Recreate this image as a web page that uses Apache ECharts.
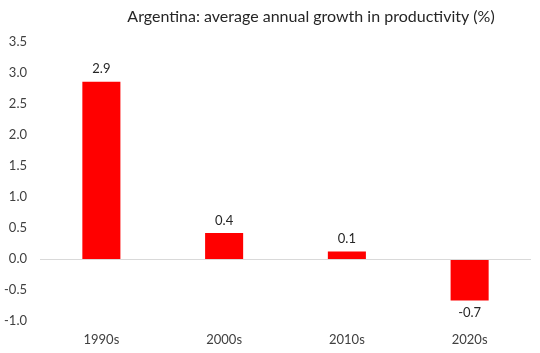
<!DOCTYPE html>
<html>
<head>
<meta charset="utf-8">
<script src="https://cdn.jsdelivr.net/npm/echarts@6/dist/echarts.min.js"></script>
<style>
  html, body { margin: 0; padding: 0; background: #fff; }
  #chart { width: 540px; height: 353px; }
</style>
</head>
<body>
<div id="chart"></div>
<script>
// decades and average annual productivity growth (%)
const decades = ['1990s', '2000s', '2010s', '2020s'];
const growth = [2.86, 0.42, 0.12, -0.67];
const yTicks = { min: -1, max: 3.5, step: 0.5 };

const chart = echarts.init(document.getElementById('chart'));
const font = 'Lato, "Open Sans", sans-serif';

const barData = growth.map(v => ({
  value: v,
  label: { position: v < 0 ? 'bottom' : 'top' }
}));

chart.setOption({
  animation: false,
  title: {
    text: 'Argentina: average annual growth in productivity (%)',
    left: 306,
    textAlign: 'center',
    top: 4,
    textStyle: { fontFamily: font, fontSize: 16, fontWeight: 'normal', color: '#262626' }
  },
  grid: { left: 40, right: 9, top: 42, bottom: 32 },
  xAxis: {
    type: 'category',
    data: decades,
    axisLine: { show: false, onZero: false },
    axisTick: { show: false },
    axisLabel: { fontFamily: font, fontSize: 13, color: '#404040', margin: 12 }
  },
  yAxis: {
    type: 'value',
    min: yTicks.min,
    max: yTicks.max,
    interval: yTicks.step,
    axisLine: { show: false },
    axisTick: { show: false },
    splitLine: { show: false },
    axisLabel: {
      fontFamily: font, fontSize: 13, color: '#404040', margin: 13,
      formatter: v => v.toFixed(1)
    }
  },
  series: [{
    type: 'bar',
    data: barData,
    barWidth: '31%',
    itemStyle: { color: '#ff0000' },
    label: {
      show: true,
      fontFamily: font,
      fontSize: 13,
      color: '#262626',
      distance: 6,
      formatter: p => p.value.toFixed(1)
    },
    markLine: {
      silent: true,
      symbol: 'none',
      label: { show: false },
      lineStyle: { color: '#d9d9d9', type: 'solid', width: 1 },
      data: [{ yAxis: 0 }]
    }
  }]
});
</script>
</body>
</html>
